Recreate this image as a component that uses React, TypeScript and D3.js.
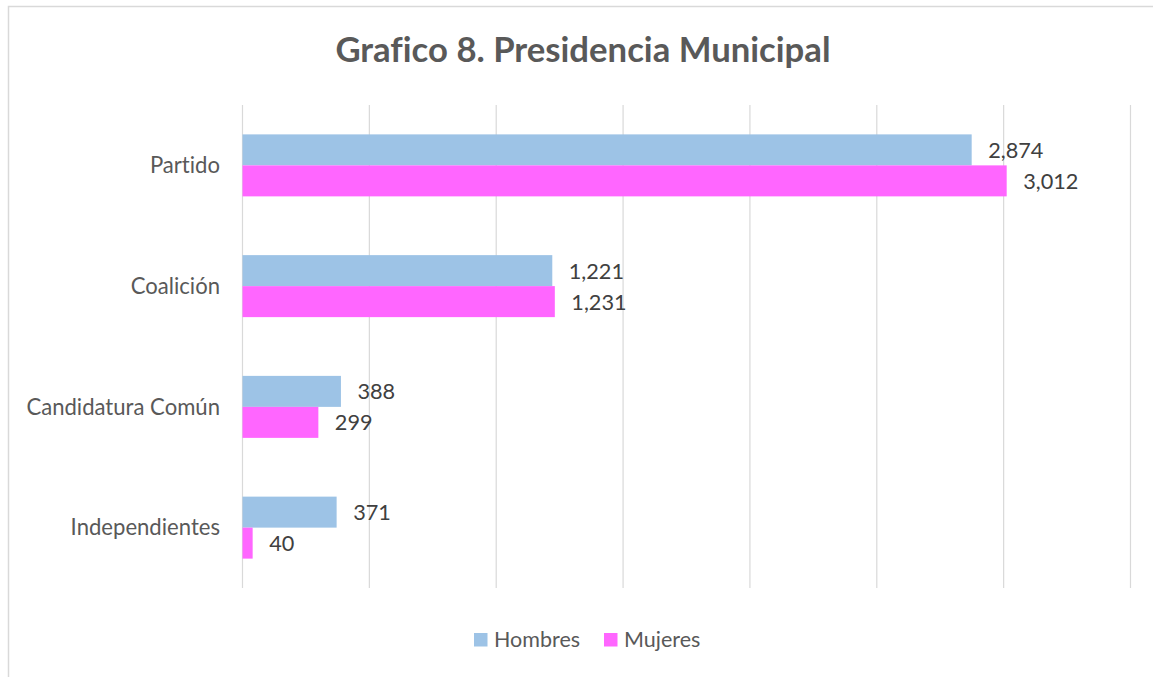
import React, { useEffect } from "react";
import * as d3 from "d3";

const categories = ["Partido", "Coalición", "Candidatura Común", "Independientes"];
const hombres = [2874, 1221, 388, 371];
const mujeres = [3012, 1231, 299, 40];
const seriesNames = ["Hombres", "Mujeres"];
const seriesColors = ["#9DC3E6", "#FF66FF"];
const xTicks = [0, 500, 1000, 1500, 2000, 2500, 3000, 3500];
const title = "Grafico 8. Presidencia Municipal";

const W = 1153;
const H = 677;
const FONT = "Lato, 'Open Sans', sans-serif";

export default function App() {
  useEffect(() => {
    document.body.style.margin = "0";
  }, []);

  const x = d3.scaleLinear().domain([0, 3500]).range([242.5, 1130.5]);
  const y = d3
    .scaleBand<string>()
    .domain(categories)
    .range([105, 588])
    .paddingInner(0.4866)
    .paddingOuter(0.2433);
  const inner = d3
    .scaleBand<string>()
    .domain(seriesNames)
    .range([0, y.bandwidth()]);
  const fmt = d3.format(",");
  const series = [hombres, mujeres];

  return (
    <svg
      width={W}
      height={H}
      style={{ display: "block", fontVariantLigatures: "none" }}
      fontFamily={FONT}
    >
      <rect x={0} y={0} width={W} height={H} fill="#fff" />
      <rect x={8.5} y={6.5} width={W + 20} height={H + 20} fill="none" stroke="#D9D9D9" strokeWidth={1.5} />
      <text x={583} y={62} textAnchor="middle" fontSize={34.7} fontWeight={700} fill="#595959">
        {title}
      </text>
      {xTicks.map((t) => (
        <line key={t} x1={x(t)} x2={x(t)} y1={105} y2={588} stroke="#D9D9D9" strokeWidth={1.2} />
      ))}
      {categories.map((c, i) => (
        <g key={c}>
          <text x={220} y={(y(c) as number) + y.bandwidth() / 2 + 7.8} textAnchor="end" fontSize={22.1} fill="#595959">
            {c}
          </text>
          {series.map((s, j) => {
            const by = (y(c) as number) + (inner(seriesNames[j]) as number);
            const bh = inner.bandwidth();
            return (
              <g key={j}>
                <rect x={x(0)} y={by} width={x(s[i]) - x(0)} height={bh} fill={seriesColors[j]} />
                <text x={x(s[i]) + 16.5} y={by + bh / 2 + 8} fontSize={21.7} fill="#404040">
                  {fmt(s[i])}
                </text>
              </g>
            );
          })}
        </g>
      ))}
      <g>
        <rect x={474} y={633} width={13.5} height={13.5} fill={seriesColors[0]} />
        <text x={494} y={647} fontSize={21.5} fill="#595959">{seriesNames[0]}</text>
        <rect x={604} y={633} width={13.5} height={13.5} fill={seriesColors[1]} />
        <text x={624} y={647} fontSize={21.5} fill="#595959">{seriesNames[1]}</text>
      </g>
    </svg>
  );
}
